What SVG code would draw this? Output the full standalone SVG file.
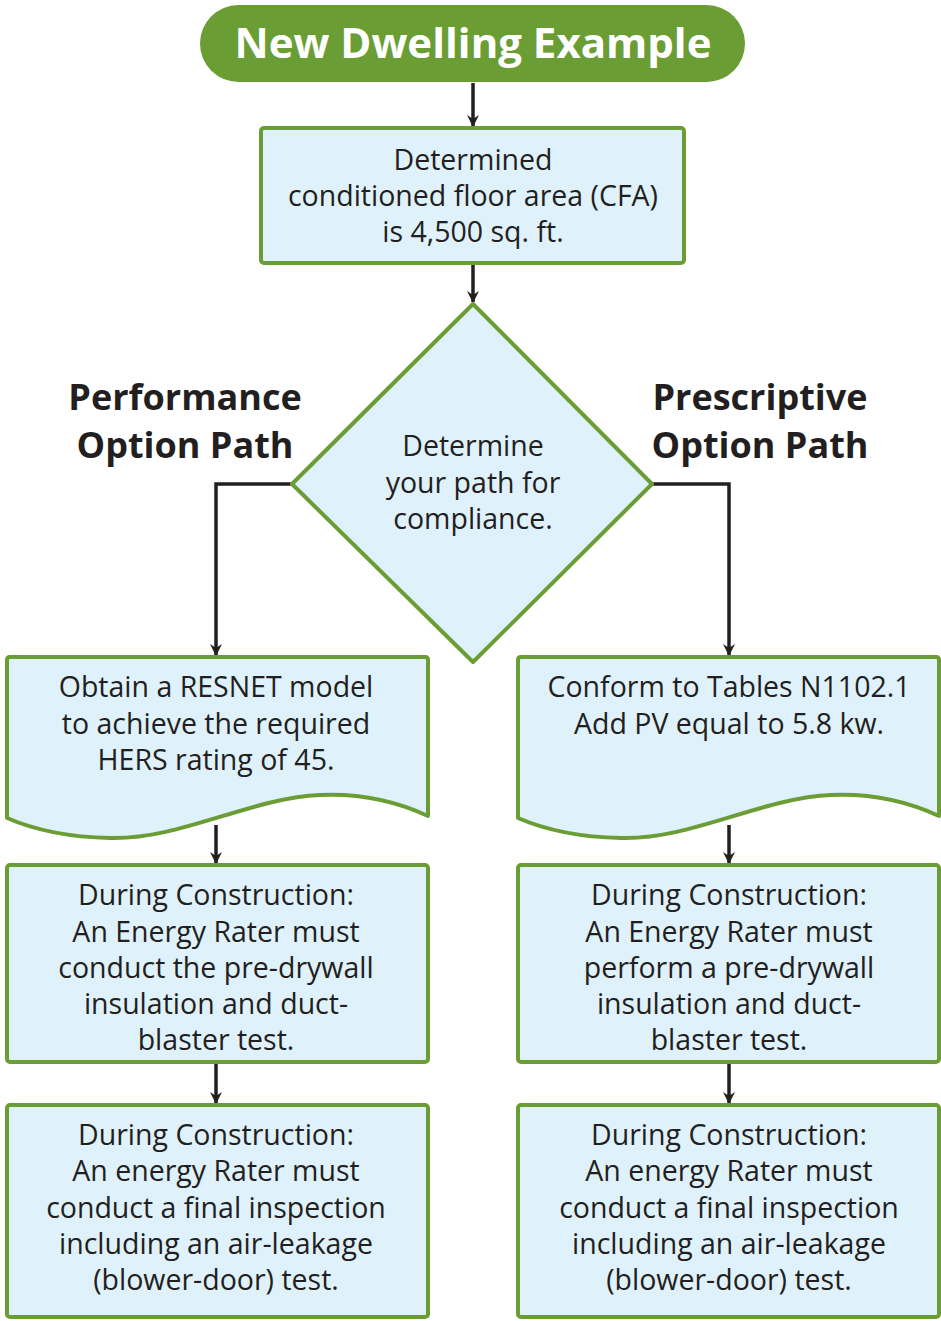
<svg xmlns="http://www.w3.org/2000/svg" width="941" height="1321" viewBox="0 0 941 1321">
<defs>
<marker id="ah" viewBox="0 0 12 12" refX="11" refY="6" markerWidth="12" markerHeight="12" markerUnits="userSpaceOnUse" orient="auto">
<path d="M0,0 L12,6 L0,12 L4,6 Z" fill="#231f20"/>
</marker>
<style>
.box{fill:#dff1fb;stroke:#6a9e35;stroke-width:4;stroke-linejoin:round}
.t{font-family:"Open Sans","Liberation Sans",Arial,sans-serif;font-size:28.5px;fill:#231f20;text-anchor:middle}
.h{font-family:"Open Sans","Liberation Sans",Arial,sans-serif;font-size:36px;font-weight:bold;fill:#231f20;text-anchor:middle}
.c{fill:none;stroke:#231f20;stroke-width:3.5}
</style>
</defs>
<rect width="941" height="1321" fill="#ffffff"/>
<g id="connectors">
<line class="c" x1="473" y1="83" x2="473" y2="126" marker-end="url(#ah)"/>
<line class="c" x1="473" y1="264" x2="473" y2="302" marker-end="url(#ah)"/>
<polyline class="c" points="292,484 216,484 216,655" marker-end="url(#ah)"/>
<polyline class="c" points="652,484 729,484 729,655" marker-end="url(#ah)"/>
<line class="c" x1="216" y1="825" x2="216" y2="863" marker-end="url(#ah)"/>
<line class="c" x1="729" y1="825" x2="729" y2="863" marker-end="url(#ah)"/>
<line class="c" x1="216" y1="1063" x2="216" y2="1103" marker-end="url(#ah)"/>
<line class="c" x1="729" y1="1063" x2="729" y2="1103" marker-end="url(#ah)"/>
</g>
<g id="title">
<rect x="200" y="5" width="545" height="77" rx="38.5" fill="#6a9e35"/>
<text x="473" y="58" font-family="Open Sans,Liberation Sans,Arial,sans-serif" font-size="42" font-weight="bold" fill="#ffffff" text-anchor="middle">New Dwelling Example</text>
</g>
<g id="cfa">
<rect class="box" x="261" y="128" width="423" height="135" rx="3"/>
<text class="t" x="473" y="170">Determined</text>
<text class="t" x="473" y="206">conditioned floor area (CFA)</text>
<text class="t" x="473" y="242">is 4,500 sq. ft.</text>
</g>
<g id="decision">
<polygon class="box" points="473,304 652,484 473,662 292,484"/>
<text class="t" x="473" y="456">Determine</text>
<text class="t" x="473" y="493">your path for</text>
<text class="t" x="473" y="529">compliance.</text>
</g>
<g id="perf-label">
<text class="h" x="185" y="410">Performance</text>
<text class="h" x="185" y="458">Option Path</text>
</g>
<g id="pres-label">
<text class="h" x="760" y="410">Prescriptive</text>
<text class="h" x="760" y="458">Option Path</text>
</g>
<g id="resnet">
<path class="box" d="M10,657 L425,657 Q428,657 428,660 L428,816 C400,803 365,793 320,795 C250,798 180,840 110,838 C60,837 30,828 7,818 L7,660 Q7,657 10,657 Z"/>
<text class="t" x="216" y="697">Obtain a RESNET model</text>
<text class="t" x="216" y="734">to achieve the required</text>
<text class="t" x="216" y="770">HERS rating of 45.</text>
</g>
<g id="tables">
<path class="box" d="M521,657 L936,657 Q939,657 939,660 L939,816 C911,803 876,793 831,795 C761,798 691,840 621,838 C571,837 541,828 518,818 L518,660 Q518,657 521,657 Z"/>
<text class="t" x="729" y="697">Conform to Tables N1102.1</text>
<text class="t" x="729" y="734">Add PV equal to 5.8 kw.</text>
</g>
<g id="perf-predrywall">
<rect class="box" x="7" y="865" width="421" height="197" rx="3"/>
<text class="t" x="216" y="905">During Construction:</text>
<text class="t" x="216" y="942">An Energy Rater must</text>
<text class="t" x="216" y="978">conduct the pre-drywall</text>
<text class="t" x="216" y="1014">insulation and duct-</text>
<text class="t" x="216" y="1050">blaster test.</text>
</g>
<g id="pres-predrywall">
<rect class="box" x="518" y="865" width="421" height="197" rx="3"/>
<text class="t" x="729" y="905">During Construction:</text>
<text class="t" x="729" y="942">An Energy Rater must</text>
<text class="t" x="729" y="978">perform a pre-drywall</text>
<text class="t" x="729" y="1014">insulation and duct-</text>
<text class="t" x="729" y="1050">blaster test.</text>
</g>
<g id="perf-final">
<rect class="box" x="7" y="1105" width="421" height="212" rx="3"/>
<text class="t" x="216" y="1145">During Construction:</text>
<text class="t" x="216" y="1181">An energy Rater must</text>
<text class="t" x="216" y="1218">conduct a final inspection</text>
<text class="t" x="216" y="1254">including an air-leakage</text>
<text class="t" x="216" y="1290">(blower-door) test.</text>
</g>
<g id="pres-final">
<rect class="box" x="518" y="1105" width="421" height="212" rx="3"/>
<text class="t" x="729" y="1145">During Construction:</text>
<text class="t" x="729" y="1181">An energy Rater must</text>
<text class="t" x="729" y="1218">conduct a final inspection</text>
<text class="t" x="729" y="1254">including an air-leakage</text>
<text class="t" x="729" y="1290">(blower-door) test.</text>
</g>
</svg>
